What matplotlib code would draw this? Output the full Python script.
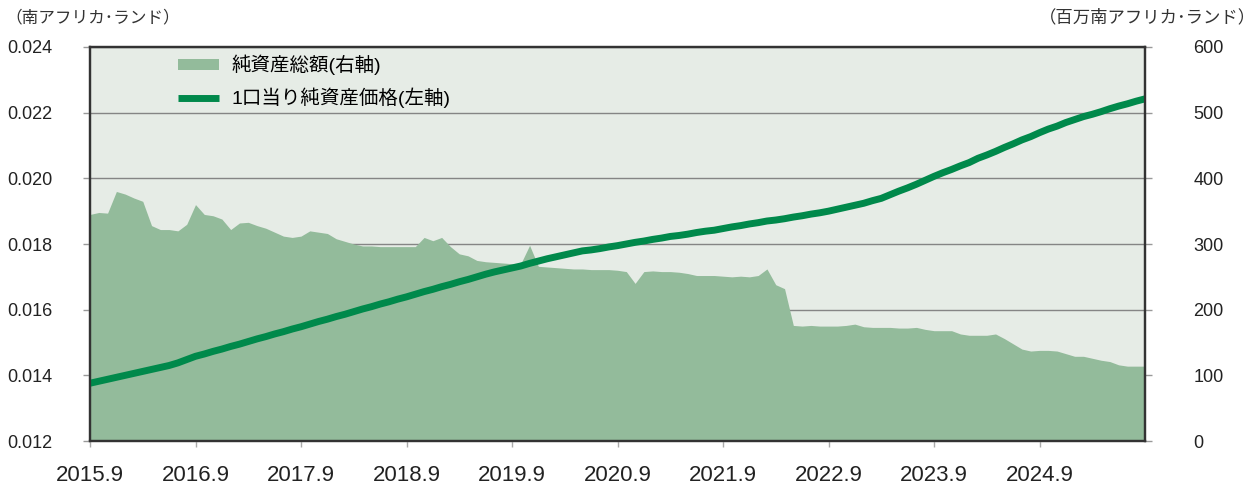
import matplotlib
matplotlib.use("Agg")
import matplotlib.pyplot as plt
import numpy as np

plt.rcParams['font.family'] = ['Liberation Sans', 'Noto Sans CJK JP']

# tick labels (every 12 months from 2015.9)
tick_labels = ['2015.9', '2016.9', '2017.9', '2018.9', '2019.9',
               '2020.9', '2021.9', '2022.9', '2023.9', '2024.9']

# net assets, million rand (right axis), monthly
net_assets = [345, 348, 347, 380, 376, 370, 365, 328, 322, 322, 320, 330,
              360, 345, 343, 338, 322, 332, 333, 328, 324, 318, 312, 310,
              312, 320, 318, 316, 308, 304, 300, 297, 297, 296, 296, 296,
              296, 296, 310, 305, 310, 296, 285, 282, 275, 273, 272, 271,
              270, 270, 298, 266, 265, 264, 263, 262, 262, 261, 261, 261,
              260, 258, 240, 258, 259, 258, 258, 257, 255, 252, 252, 252,
              251, 250, 251, 250, 252, 262, 238, 232, 176, 175, 176, 175,
              175, 175, 176, 178, 174, 173, 173, 173, 172, 172, 173, 170,
              168, 168, 168, 163, 161, 161, 161, 163, 156, 148, 140, 137,
              138, 138, 137, 133, 129, 129, 126, 123, 121, 116, 114, 114,
              114]

# NAV per unit, rand (left axis), monthly
nav = [0.01376, 0.01382, 0.01388, 0.01394, 0.01400, 0.01406, 0.01412, 0.01418,
       0.01424, 0.01430, 0.01438, 0.01448, 0.01458, 0.01465, 0.01473, 0.01480,
       0.01488, 0.01495, 0.01503, 0.01511, 0.01518, 0.01526, 0.01533, 0.01541,
       0.01548, 0.01556, 0.01564, 0.01571, 0.01579, 0.01586, 0.01594, 0.01602,
       0.01609, 0.01617, 0.01624, 0.01632, 0.01639, 0.01647, 0.01655, 0.01662,
       0.01670, 0.01677, 0.01685, 0.01692, 0.01700, 0.01708, 0.01715, 0.01721,
       0.01727, 0.01733, 0.01741, 0.01748, 0.01755, 0.01761, 0.01767, 0.01773,
       0.01779, 0.01782, 0.01786, 0.01791, 0.01795, 0.01800, 0.01805, 0.01809,
       0.01814, 0.01818, 0.01823, 0.01826, 0.01830, 0.01835, 0.01839, 0.01842,
       0.01847, 0.01852, 0.01856, 0.01861, 0.01865, 0.01870, 0.01873, 0.01877,
       0.01882, 0.01886, 0.01891, 0.01895, 0.01900, 0.01906, 0.01912, 0.01918,
       0.01924, 0.01932, 0.01939, 0.01950, 0.01961, 0.01971, 0.01982, 0.01994,
       0.02006, 0.02017, 0.02027, 0.02038, 0.02048, 0.02061, 0.02071, 0.02082,
       0.02094, 0.02105, 0.02117, 0.02127, 0.02139, 0.02150, 0.02159, 0.02170,
       0.02179, 0.02188, 0.02195, 0.02203, 0.02212, 0.02220, 0.02227, 0.02235,
       0.02242]

months = np.arange(len(nav))

fig = plt.figure(figsize=(12.57, 4.91), dpi=100)
ax = fig.add_axes([0.0716, 0.1018, 0.8393, 0.8025])
ax2 = ax.twinx()

# area on right axis, behind the line
ax.set_zorder(2)
ax2.set_zorder(1)
ax.patch.set_visible(False)
ax2.patch.set_visible(True)
ax2.patch.set_facecolor('#e6ece6')

area = ax2.fill_between(months, net_assets, 0, color='#93bb9b', lw=0,
                        label='純資産総額(右軸)')
line, = ax.plot(months, nav, color='#00894b', lw=5,
                label='1口当り純資産価格(左軸)', solid_capstyle='butt')

ax.set_xlim(0, 120)
ax.set_ylim(0.012, 0.024)
ax2.set_ylim(0, 600)
ax.set_yticks(np.arange(0.012, 0.0241, 0.002))
ax.set_yticklabels(['%.3f' % v for v in np.arange(0.012, 0.0241, 0.002)])
ax2.set_yticks(np.arange(0, 601, 100))
ax.set_xticks(np.arange(0, 120, 12))
ax.set_xticklabels(tick_labels)

ax2.grid(axis='y', color='#858585', lw=1.0)
ax2.set_axisbelow(True)

for a in (ax, ax2):
    for s in a.spines.values():
        s.set_color('#333333')
        s.set_linewidth(1.6)

ax.tick_params(axis='y', length=5, width=1, color='#999999', pad=22,
               labelsize=13, labelcolor='#222222')
ax.tick_params(axis='x', length=4, width=1, color='#aaaaaa', pad=13,
               labelsize=16, labelcolor='#222222')
ax2.tick_params(axis='y', length=5, width=1, color='#999999', pad=30,
                labelsize=13, labelcolor='#222222')

fig.text(0.004, 0.965, '（南アフリカ･ランド）', fontsize=12, color='#333333',
         ha='left', va='center')
fig.text(0.999, 0.965, '（百万南アフリカ･ランド）', fontsize=12.5,
         color='#333333', ha='right', va='center')

ax.legend(handles=[area, line], loc='upper left',
          bbox_to_anchor=(0.083, 0.98), frameon=False, fontsize=14,
          handlelength=2.15, handleheight=0.45, handletextpad=0.6,
          labelspacing=0.62, borderpad=0, borderaxespad=0)

fig.savefig('out.png', dpi=100)
